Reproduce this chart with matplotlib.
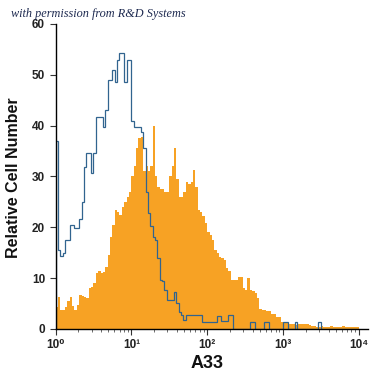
import numpy as np
import matplotlib

matplotlib.use("Agg")
import matplotlib.pyplot as plt
from matplotlib.ticker import FixedLocator, LogLocator, NullFormatter

# 128 canales log, 10^0 a 10^4
N_BINS = 128
LOG_MIN, LOG_MAX = 0, 4

# A33 teñido (relleno naranja)
a33_counts = [
    4.3, 6.3, 3.7, 3.7, 4.3, 5.5, 6.3, 4.5, 3.7, 4.8,
    6.7, 6.5, 6.3, 6.0, 8.0, 8.3, 9.0, 11.0, 11.5, 11.0,
    11.2, 12.2, 14.5, 18.0, 20.5, 23.4, 23.0, 22.5, 24.0, 25.0,
    26.0, 27.0, 30.0, 32.0, 35.6, 37.5, 37.8, 31.0, 32.0, 31.0,
    32.0, 40.0, 30.0, 28.0, 27.5, 27.5, 27.0, 27.0, 30.0, 32.0,
    35.6, 29.5, 26.0, 26.0, 27.0, 29.0, 28.5, 29.0, 31.3, 28.0,
    23.4, 23.0, 22.3, 20.8, 19.0, 18.5, 17.5, 15.5, 15.0, 14.2,
    14.0, 13.5, 12.0, 11.5, 9.6, 9.6, 9.6, 10.3, 10.3, 8.0,
    7.7, 10.0, 7.7, 7.5, 7.0, 6.0, 4.0, 3.8, 3.8, 3.5,
    3.5, 3.0, 3.0, 2.4, 2.4, 1.4, 1.4, 1.4, 1.0, 1.0,
    1.0, 0.8, 1.0, 1.0, 1.0, 1.0, 1.0, 0.8, 0.5, 0.5,
    0.3, 0.3, 0.5, 0.3, 0.3, 0.3, 0.5, 0.3, 0.3, 0.3,
    0.3, 0.5, 0.3, 0.3, 0.3, 0.3, 0.3, 0.3,
]

# control de isotipo (linea azul)
isotype_counts = [
    37.0, 15.5, 14.4, 15.0, 17.5, 17.5, 20.5, 20.5, 19.8, 19.8,
    21.6, 24.9, 31.9, 34.6, 34.6, 30.6, 34.6, 41.8, 41.8, 41.8,
    39.8, 43.1, 49.0, 49.0, 51.0, 48.6, 52.9, 54.2, 54.2, 48.6,
    52.9, 52.9, 41.0, 39.8, 39.8, 39.8, 38.8, 35.6, 27.0, 22.8,
    20.3, 18.0, 17.5, 14.0, 9.6, 9.4, 7.7, 5.7, 5.8, 5.8,
    7.3, 5.1, 3.4, 2.8, 1.8, 2.8, 2.8, 2.8, 2.8, 2.8,
    2.8, 2.8, 1.3, 1.3, 1.3, 1.3, 1.3, 1.3, 2.6, 2.6,
    1.6, 1.6, 1.6, 2.8, 2.8, 0.0, 0.0, 0.0, 0.0, 0.0,
    0.0, 0.0, 1.3, 1.3, 0.0, 0.0, 0.0, 0.0, 1.3, 1.3,
    0.0, 0.0, 0.0, 0.0, 0.0, 0.0, 1.3, 1.3, 0.0, 0.0,
    0.0, 1.3, 0.0, 0.0, 0.0, 0.0, 0.0, 0.0, 0.0, 0.0,
    0.0, 1.3, 0.0, 0.0, 0.0, 0.0, 0.0, 0.0, 0.0, 0.0,
    0.0, 0.0, 0.0, 0.0, 0.0, 0.0, 0.0, 0.0,
]

y_ticks = [0, 10, 20, 30, 40, 50, 60]
x_ticks = [1, 10, 100, 1000, 10000]
x_tick_labels = ["10⁰", "10¹", "10²", "10³", "10⁴"]

ORANGE = "#F7A224"
BLUE = "#31648F"
FONT = ["Liberation Sans", "DejaVu Sans"]

plt.rcParams["font.family"] = FONT

fig = plt.figure(figsize=(3.75, 3.75), dpi=100)
ax = fig.add_axes([0.148, 0.1227, 0.833, 0.8133])

edges = np.logspace(LOG_MIN, LOG_MAX, N_BINS + 1)
ax.stairs(a33_counts, edges, fill=True, color=ORANGE, lw=0)
ax.stairs(isotype_counts, edges, color=BLUE, lw=0.9, baseline=0)

ax.set_xscale("log")
ax.set_xlim(1, 10 ** 4.12)
ax.set_ylim(0, 60)

ax.spines["top"].set_visible(False)
ax.spines["right"].set_visible(False)
for s in ("left", "bottom"):
    ax.spines[s].set_linewidth(1.0)
    ax.spines[s].set_color("black")

ax.xaxis.set_major_locator(FixedLocator(x_ticks))
ax.set_xticklabels(x_tick_labels)
ax.xaxis.set_minor_locator(LogLocator(base=10, subs=np.arange(2, 10), numticks=20))
ax.xaxis.set_minor_formatter(NullFormatter())
ax.set_yticks(y_ticks)

ax.tick_params(axis="both", which="major", length=4, width=0.8, color="#333333",
               labelsize=8.5, labelcolor="#222222")
ax.tick_params(axis="x", which="minor", length=2.5, width=0.6, color="#555555")
for lbl in ax.get_xticklabels() + ax.get_yticklabels():
    lbl.set_fontweight("bold")

fig.text(0.037, 0.527, "Relative Cell Number", rotation=90, ha="center", va="center",
         fontsize=11.5, fontweight="bold", color="#111111")
fig.text(0.552, 0.031, "A33", ha="center", va="center", fontsize=13,
         fontweight="bold", color="#111111")

# marca de agua
fig.text(0.262, 0.962, "with permission from R&D Systems", ha="center", va="center",
         fontsize=8.8, style="italic", family=["Liberation Serif", "DejaVu Serif"],
         color="#1E2A50")

fig.savefig("out.png", dpi=100)
